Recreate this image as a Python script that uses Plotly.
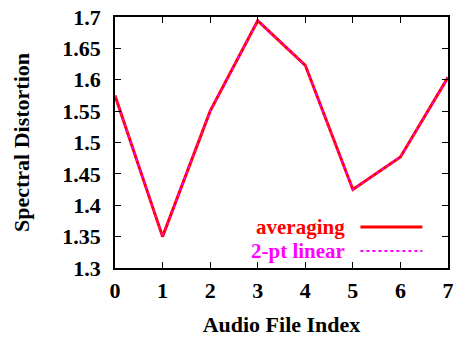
import plotly.graph_objects as go

x_idx = [0, 1, 2, 3, 4, 5, 6, 7]
averaging = [1.575, 1.350, 1.550, 1.694, 1.623, 1.425, 1.477, 1.604]
linear2pt = [1.575, 1.350, 1.550, 1.694, 1.623, 1.425, 1.477, 1.604]
y_ticks = [1.3, 1.35, 1.4, 1.45, 1.5, 1.55, 1.6, 1.65, 1.7]
y_tick_labels = ["1.3", "1.35", "1.4", "1.45", "1.5", "1.55", "1.6", "1.65", "1.7"]
series_names = ["averaging", "2-pt linear"]
series_colors = ["#ff0000", "#ff00ff"]

font_family = "Liberation Serif"
fs = 22

fig = go.Figure()
fig.add_trace(go.Scatter(x=x_idx, y=averaging, mode="lines", name=series_names[0],
                         line=dict(color=series_colors[0], width=3), showlegend=False))
fig.add_trace(go.Scatter(x=x_idx, y=linear2pt, mode="lines", name=series_names[1],
                         line=dict(color=series_colors[1], width=1.5, dash="dot"), showlegend=False))

# legend (text right-aligned, sample to the right, as in gnuplot)
leg_y = [0.163, 0.068]
for name, color, yy, dash, w in zip(series_names, series_colors, leg_y, ["solid", "dot"], [3, 2]):
    fig.add_annotation(x=0.695, y=yy, xref="paper", yref="paper", text="<b>%s</b>" % name,
                       showarrow=False, xanchor="right", yanchor="middle", borderpad=0,
                       font=dict(family=font_family, size=21, color=color))
    fig.add_shape(type="line", xref="paper", yref="paper", x0=0.737, x1=0.923, y0=yy, y1=yy,
                  line=dict(color=color, width=w, dash=dash))

axis_common = dict(showgrid=False, zeroline=False, showline=True, linecolor="black", linewidth=1.5,
                   mirror="ticks", ticks="inside", ticklen=6, tickwidth=1, tickcolor="black",
                   tickfont=dict(family=font_family, size=fs, color="black"))

fig.update_xaxes(range=[0, 7], tickvals=x_idx, ticktext=[f"<b>{v}</b>" for v in x_idx],
                 ticklabelstandoff=2,
                 title=dict(text="<b>Audio File Index</b>", font=dict(family=font_family, size=fs, color="black"), standoff=14),
                 **axis_common)
fig.update_yaxes(range=[1.3, 1.7], tickvals=y_ticks, ticktext=[f"<b>{t}</b>" for t in y_tick_labels],
                 ticklabelstandoff=8,
                 title=dict(text="<b>Spectral Distortion</b>", font=dict(family=font_family, size=fs, color="black"), standoff=27),
                 **axis_common)

fig.update_layout(width=459, height=341, margin=dict(l=115, r=5, t=17, b=73),
                  plot_bgcolor="white", paper_bgcolor="white")

fig.write_html("out.html")
